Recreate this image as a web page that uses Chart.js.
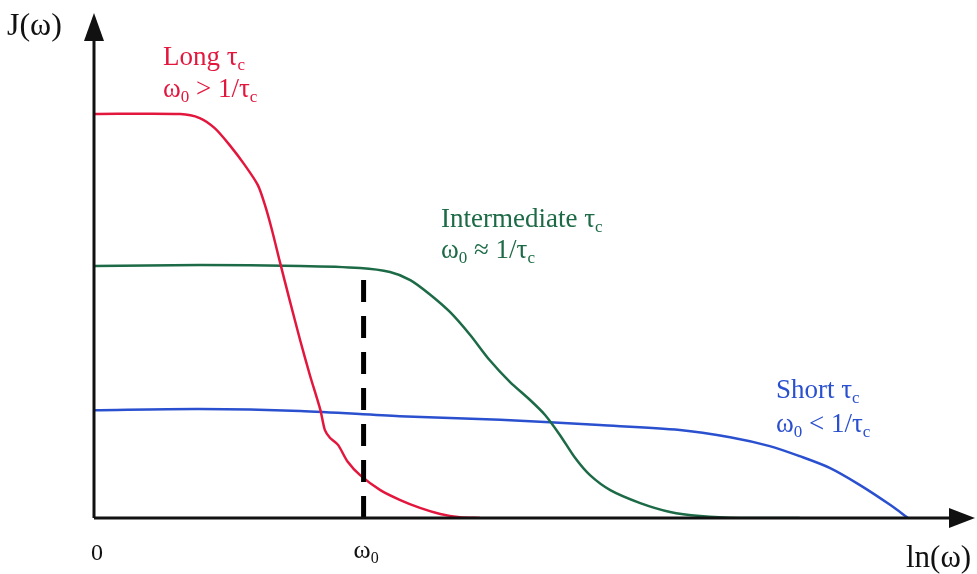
<!DOCTYPE html>
<html>
<head>
<meta charset="utf-8">
<script src="https://cdn.jsdelivr.net/npm/chart.js@4"></script>
<style>
  html, body { margin: 0; padding: 0; background: #fff; }
  #wrap { width: 977px; height: 574px; position: relative; }
</style>
</head>
<body>
<div id="wrap"><canvas id="chart"></canvas></div>
<script>
// Spectral density J(ω) vs ln(ω) for three correlation times

// x = ln(ω) in arbitrary units, y = J(ω) relative to the long-τc plateau
const longX  = [0, 0.98, 1.20, 1.37, 1.54, 1.71, 1.86, 1.94, 2.02, 2.11, 2.22, 2.34, 2.45, 2.57, 2.62, 2.68, 2.77, 2.88, 3.02, 3.25, 3.47, 3.70, 3.93, 4.15, 4.38];
const longY  = [1.0, 1.0, 0.99, 0.965, 0.923, 0.874, 0.824, 0.775, 0.713, 0.634, 0.54, 0.44, 0.354, 0.267, 0.218, 0.198, 0.181, 0.139, 0.106, 0.069, 0.045, 0.025, 0.01, 0.002, 0];

const interX = [0, 1.20, 2.34, 3.02, 3.36, 3.59, 3.81, 4.04, 4.27, 4.49, 4.72, 4.95, 5.12, 5.29, 5.46, 5.63, 5.86, 6.20, 6.54, 6.88, 7.33, 8.01];
const interY = [0.624, 0.626, 0.624, 0.619, 0.609, 0.589, 0.554, 0.51, 0.453, 0.391, 0.337, 0.292, 0.255, 0.205, 0.149, 0.106, 0.069, 0.037, 0.015, 0.005, 0, 0];

const shortX = [0, 1.20, 2.34, 3.47, 4.61, 5.74, 6.65, 7.22, 7.67, 8.01, 8.35, 8.69, 9.04, 9.24];
const shortY = [0.267, 0.27, 0.265, 0.252, 0.243, 0.23, 0.218, 0.2, 0.178, 0.153, 0.124, 0.082, 0.032, 0];

// position of ω0 and height of the marker line
const omega0 = 3.06;
const markerTop = 0.589;

const RED = '#e3173e';
const GREEN = '#1c6a46';
const BLUE = '#2a50cf';
const SERIF = '"Liberation Serif", "DejaVu Serif", serif';

const toPoints = (xs, ys) => xs.map((x, i) => ({ x: x, y: ys[i] }));

// draw a line of text made of [text, isSubscript] pieces
function drawRich(ctx, parts, x, y, size, color) {
    ctx.fillStyle = color;
    ctx.textBaseline = 'alphabetic';
    ctx.textAlign = 'left';
    let cx = x;
    parts.forEach(([txt, sub]) => {
        const s = sub ? Math.round(size * 0.62) : size;
        ctx.font = s + 'px ' + SERIF;
        ctx.fillText(txt, cx, sub ? y + size * 0.18 : y);
        cx += ctx.measureText(txt).width;
    });
}

const decorations = {
    id: 'decorations',
    afterDatasetsDraw(chart) {
        const ctx = chart.ctx;
        const xs = chart.scales.x, ys = chart.scales.y;
        const x0 = xs.getPixelForValue(0);
        const y0 = ys.getPixelForValue(0);
        const top = chart.chartArea.top;
        const right = chart.chartArea.right;
        ctx.save();
        // axes
        ctx.strokeStyle = '#111';
        ctx.fillStyle = '#111';
        ctx.lineWidth = 3;
        ctx.beginPath();
        ctx.moveTo(x0, y0);
        ctx.lineTo(x0, top + 20);
        ctx.moveTo(x0, y0);
        ctx.lineTo(right - 20, y0);
        ctx.stroke();
        // arrow heads
        ctx.beginPath();
        ctx.moveTo(x0, top);
        ctx.lineTo(x0 - 10, top + 28);
        ctx.lineTo(x0 + 10, top + 28);
        ctx.closePath();
        ctx.fill();
        ctx.beginPath();
        ctx.moveTo(right, y0);
        ctx.lineTo(right - 26, y0 - 10);
        ctx.lineTo(right - 26, y0 + 10);
        ctx.closePath();
        ctx.fill();

        // axis labels
        drawRich(ctx, [['J(ω)', false]], 7, 35, 32, '#111');
        drawRich(ctx, [['ln(ω)', false]], 906, 567, 31, '#111');
        drawRich(ctx, [['0', false]], x0 - 3, 560, 24, '#111');
        drawRich(ctx, [['ω', false], ['0', true]], xs.getPixelForValue(omega0) - 10, 558, 26, '#111');

        // curve labels
        drawRich(ctx, [['Long τ', false], ['c', true]], 163, 65, 27, RED);
        drawRich(ctx, [['ω', false], ['0', true], [' > 1/τ', false], ['c', true]], 163, 97, 27, RED);
        drawRich(ctx, [['Intermediate τ', false], ['c', true]], 441, 227, 27, GREEN);
        drawRich(ctx, [['ω', false], ['0', true], [' ≈ 1/τ', false], ['c', true]], 441, 258, 27, GREEN);
        drawRich(ctx, [['Short τ', false], ['c', true]], 776, 398, 27, BLUE);
        drawRich(ctx, [['ω', false], ['0', true], [' < 1/τ', false], ['c', true]], 776, 432, 27, BLUE);
        ctx.restore();
    }
};

new Chart(document.getElementById('chart'), {
    type: 'line',
    data: {
        datasets: [
            {
                label: 'ω0 marker',
                data: [{ x: omega0, y: markerTop }, { x: omega0, y: 0 }],
                borderColor: '#000',
                borderWidth: 5,
                borderDash: [22, 14],
                pointRadius: 0
            },
            {
                label: 'Long τc',
                data: toPoints(longX, longY),
                borderColor: RED,
                borderWidth: 2.5,
                pointRadius: 0,
                tension: 0.25
            },
            {
                label: 'Intermediate τc',
                data: toPoints(interX, interY),
                borderColor: GREEN,
                borderWidth: 2.5,
                pointRadius: 0,
                tension: 0.25
            },
            {
                label: 'Short τc',
                data: toPoints(shortX, shortY),
                borderColor: BLUE,
                borderWidth: 2.5,
                pointRadius: 0,
                tension: 0.3
            }
        ]
    },
    options: {
        responsive: true,
        maintainAspectRatio: false,
        animation: false,
        layout: { padding: { left: 94, right: 2, top: 13, bottom: 56 } },
        plugins: {
            legend: { display: false },
            tooltip: { enabled: false }
        },
        scales: {
            x: { type: 'linear', min: 0, max: 10, display: false },
            y: { type: 'linear', min: 0, max: 1.25, display: false }
        }
    },
    plugins: [decorations]
});
</script>
</body>
</html>
